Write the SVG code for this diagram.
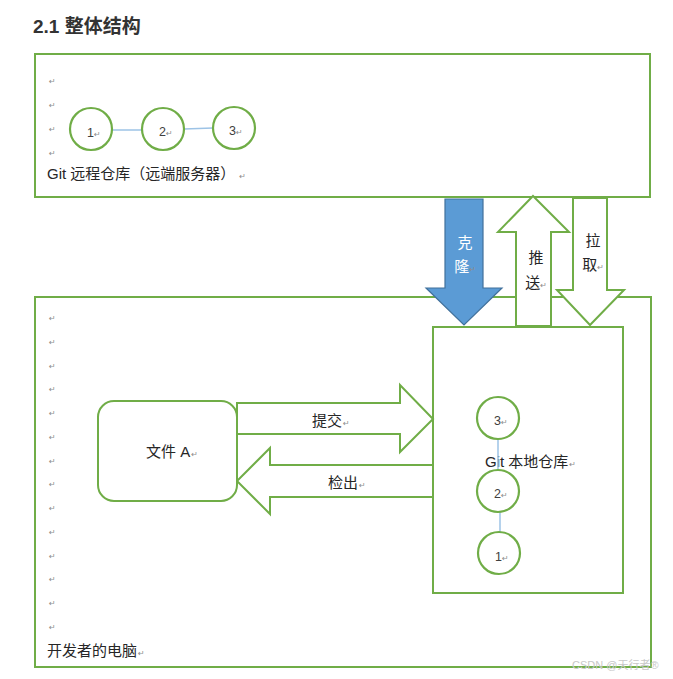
<svg xmlns="http://www.w3.org/2000/svg" width="673" height="679" viewBox="0 0 673 679">
<style>
.box{fill:#fff;stroke:#70AD47;stroke-width:2}
.arr{fill:#fff;stroke:#70AD47;stroke-width:2;stroke-linejoin:miter}
.node{fill:#fff;stroke:#70AD47;stroke-width:2.2}
.link{stroke:#9DC3E6;stroke-width:1.5}
.t{font-family:"Liberation Sans","Noto Sans CJK SC",sans-serif;font-size:15px;fill:#262626}
.n{font-family:"Liberation Sans","Noto Sans CJK SC",sans-serif;font-size:12.5px;fill:#404040}
.r{font-family:"DejaVu Sans",sans-serif;font-size:8px;fill:#8c8c8c}
</style>
<rect width="673" height="679" fill="#fff"/>
<text x="33" y="33" style="font-family:'Liberation Sans','Noto Sans CJK SC',sans-serif;font-size:19px;font-weight:bold;fill:#333">2.1 整体结构</text>

<g id="remote">
<rect class="box" x="35" y="54" width="615" height="143"/>
<text class="r" x="49" y="84">↵</text><text class="r" x="49" y="108">↵</text><text class="r" x="49" y="132">↵</text><text class="r" x="49" y="156">↵</text>
<text class="t" x="47" y="179">Git 远程仓库（远端服务器）<tspan class="r" dx="4">↵</tspan></text>
</g>
<g id="computer">
<rect class="box" x="35" y="297" width="616" height="370"/>
<g class="r">
<text x="49" y="321">↵</text><text x="49" y="345">↵</text><text x="49" y="369">↵</text><text x="49" y="392">↵</text><text x="49" y="416">↵</text><text x="49" y="440">↵</text><text x="49" y="464">↵</text><text x="49" y="487">↵</text><text x="49" y="511">↵</text><text x="49" y="535">↵</text><text x="49" y="559">↵</text><text x="49" y="582">↵</text><text x="49" y="606">↵</text><text x="49" y="630">↵</text>
</g>
<text class="t" x="47" y="656">开发者的电脑<tspan class="r" dx="1">↵</tspan></text>
</g>
<g id="local">
<rect class="box" x="433" y="327" width="190" height="266"/>
<text class="t" x="485" y="467">Git 本地仓库<tspan class="r" dx="1">↵</tspan></text>
</g>

<g id="connectors">
<path class="arr" d="M516,326 V232 H498 L533,196 L569,232 H551 V326 Z"/>
<path class="arr" d="M573,198 H607 V290 H624 L590,325 L557,290 H573 Z"/>
<path d="M445,199 H483 V288 H502 L464,325 L426,288 H445 Z" fill="#5B9BD5" stroke="#41719C" stroke-width="1.2"/>
<path class="arr" d="M237,403 H400 V385 L433,419 L400,452 V434 H237 Z"/>
<path class="arr" d="M433,465 H270 V448 L237,481 L270,514 V497 H433 Z"/>
<line class="link" x1="112" y1="130" x2="142" y2="130"/>
<line class="link" x1="184" y1="129" x2="213" y2="128"/>
<line class="link" x1="498" y1="439" x2="498" y2="470"/>
<line class="link" x1="500" y1="512" x2="500" y2="532"/>
<text class="t" x="465" y="248" text-anchor="middle" style="fill:#fff">克</text>
<text class="t" x="465" y="272" text-anchor="middle" style="fill:#fff">隆<tspan class="r">↵</tspan></text>
<text class="t" x="536" y="263" text-anchor="middle">推</text>
<text class="t" x="536" y="288" text-anchor="middle">送<tspan class="r">↵</tspan></text>
<text class="t" x="593" y="246" text-anchor="middle">拉</text>
<text class="t" x="593" y="270" text-anchor="middle">取<tspan class="r">↵</tspan></text>
<text class="t" x="312" y="426">提交<tspan class="r" dx="1">↵</tspan></text>
<text class="t" x="328" y="488">检出<tspan class="r" dx="1">↵</tspan></text>
</g>

<g id="r1"><circle class="node" cx="91" cy="129" r="21"/><text class="n" x="87" y="137">1<tspan class="r">↵</tspan></text></g>
<g id="r2"><circle class="node" cx="163" cy="129" r="21"/><text class="n" x="159" y="136">2<tspan class="r">↵</tspan></text></g>
<g id="r3"><circle class="node" cx="234" cy="128" r="21"/><text class="n" x="229" y="135">3<tspan class="r">↵</tspan></text></g>

<g id="l3"><circle class="node" cx="498" cy="418" r="21"/><text class="n" x="494" y="425">3<tspan class="r">↵</tspan></text></g>
<g id="l2"><circle class="node" cx="498" cy="491" r="21"/><text class="n" x="494" y="498">2<tspan class="r">↵</tspan></text></g>
<g id="l1"><circle class="node" cx="499" cy="553" r="21"/><text class="n" x="495" y="561">1<tspan class="r">↵</tspan></text></g>

<g id="fileA">
<rect class="box" x="98" y="401" width="139" height="100" rx="16"/>
<text class="t" x="146" y="457">文件 A<tspan class="r" dx="1">↵</tspan></text>
</g>
<text x="572" y="669" style="font-family:'Liberation Sans','Noto Sans CJK SC',sans-serif;font-size:11px;fill:#c8c8c8">CSDN @天行者®</text>
</svg>
